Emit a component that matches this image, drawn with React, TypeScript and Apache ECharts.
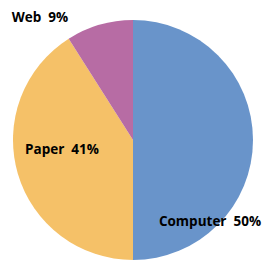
import React, { useEffect, useRef } from "react";
import * as echarts from "echarts";

const categories = ["Computer", "Paper", "Web"];
const values = [50, 41, 9];
const colors = ["#6994CA", "#F5C168", "#B76CA4"];
const labelPos: [number, number][] = [
  [210, 221],
  [62, 149],
  [40, 17],
];

export default function App() {
  const ref = useRef<HTMLDivElement>(null);
  useEffect(() => {
    const chart = echarts.init(ref.current!, undefined, { renderer: "svg" });
    chart.setOption({
      animation: false,
      series: [
        {
          type: "pie",
          center: [133, 140],
          radius: 120,
          startAngle: 90,
          clockwise: true,
          data: categories.map((c, i) => ({
            name: c,
            value: values[i],
            itemStyle: { color: colors[i] },
          })),
          itemStyle: { borderWidth: 0 },
          label: {
            show: true,
            position: "inside",
            formatter: (p: any) => `${p.name}  ${p.value}%`,
            color: "#000",
            fontWeight: "bold",
            fontSize: 13.5,
            fontFamily: "Open Sans",
          },
          labelLine: { show: false },
          labelLayout: (p: any) => ({
            x: labelPos[p.dataIndex][0],
            y: labelPos[p.dataIndex][1],
            align: "center",
            verticalAlign: "middle",
          }),
        },
      ],
    });
    return () => chart.dispose();
  }, []);
  return (
    <div
      ref={ref}
      style={{ position: "fixed", left: 0, top: 0, width: 267, height: 261, background: "#fff" }}
    />
  );
}
